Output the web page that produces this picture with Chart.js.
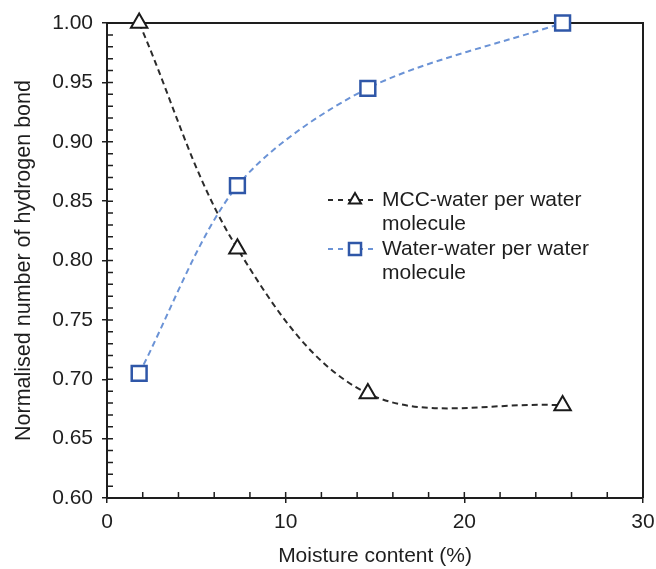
<!DOCTYPE html>
<html>
<head>
<meta charset="utf-8">
<script src="https://cdn.jsdelivr.net/npm/chart.js@4/dist/chart.umd.min.js"></script>
<style>
  html, body { margin: 0; padding: 0; background: #fff; }
  #wrap { width: 656px; height: 569px; }
</style>
</head>
<body>
<div id="wrap"><canvas id="hbondChart"></canvas></div>
<script>
// values
const moisture = [1.8, 7.3, 14.6, 25.5];
const mccWater = [1.00, 0.810, 0.688, 0.678];
const waterWater = [0.705, 0.863, 0.945, 1.00];
const seriesNames = [
    ['MCC-water per water', 'molecule'],
    ['Water-water per water', 'molecule']
];
const xTicks = [0, 10, 20, 30];
const yTicks = [0.60, 0.65, 0.70, 0.75, 0.80, 0.85, 0.90, 0.95, 1.00];

const FONT = "'Liberation Sans', Arial, sans-serif";
const INK = '#1e1e1e';
Chart.defaults.font.family = FONT;
Chart.defaults.color = INK;

// frame on top/right plus inward major and minor ticks, like the excel plot
const framePlugin = {
    id: 'frame',
    beforeDatasetsDraw(chart) {
        const { ctx, chartArea: a, scales } = chart;
        ctx.save();
        ctx.strokeStyle = INK;
        ctx.lineWidth = 2;
        ctx.beginPath();
        ctx.moveTo(a.left, a.top);
        ctx.lineTo(a.right, a.top);
        ctx.lineTo(a.right, a.bottom);
        ctx.stroke();

        ctx.lineWidth = 1.5;
        ctx.beginPath();
        for (let i = 60; i <= 100; i++) {
            const y = scales.y.getPixelForValue(i / 100);
            ctx.moveTo(a.left, y);
            ctx.lineTo(a.left + 6, y);
        }
        for (let i = 0; i <= 30; i += 2) {
            const x = scales.x.getPixelForValue(i);
            ctx.moveTo(x, a.bottom);
            ctx.lineTo(x, a.bottom - 6);
        }
        ctx.stroke();
        ctx.restore();
    }
};

// legend sits inside the plot with wrapped labels
const legendPlugin = {
    id: 'insideLegend',
    afterDraw(chart) {
        const { ctx, chartArea: a } = chart;
        const x0 = a.left + 221;
        const rows = [a.top + 177, a.top + 226];
        ctx.save();
        chart.data.datasets.forEach((ds, i) => {
            const y = rows[i];
            ctx.strokeStyle = ds.borderColor;
            ctx.lineWidth = ds.borderWidth;
            ctx.setLineDash([5, 5]);
            ctx.beginPath();
            ctx.moveTo(x0, y);
            ctx.lineTo(x0 + 47, y);
            ctx.stroke();
            ctx.setLineDash([]);
            ctx.fillStyle = '#fff';
            ctx.strokeStyle = ds.pointBorderColor;
            ctx.lineWidth = ds.pointBorderWidth;
            Chart.helpers.drawPoint(ctx, {
                pointStyle: ds.pointStyle,
                radius: ds.legendRadius,
                rotation: 0,
                borderWidth: ds.pointBorderWidth
            }, x0 + 27, y);
            ctx.fillStyle = INK;
            ctx.font = '21px ' + FONT;
            ctx.textBaseline = 'middle';
            seriesNames[i].forEach((line, j) => {
                ctx.fillText(line, x0 + 54, y + j * 24.5);
            });
        });
        ctx.restore();
    }
};

const chart = new Chart(document.getElementById('hbondChart'), {
    type: 'line',
    data: {
        datasets: [{
            label: seriesNames[0].join(' '),
            data: moisture.map((m, i) => ({ x: m, y: mccWater[i] })),
            borderColor: '#2b2b2b',
            borderWidth: 2,
            borderDash: [6, 4],
            pointStyle: 'triangle',
            pointRadius: 9.5,
            legendRadius: 7,
            pointBorderWidth: 2,
            pointBorderColor: '#1a1a1a',
            pointBackgroundColor: '#fff',
            tension: 0.35,
            clip: false
        }, {
            label: seriesNames[1].join(' '),
            data: moisture.map((m, i) => ({ x: m, y: waterWater[i] })),
            borderColor: '#6b93d6',
            borderWidth: 2,
            borderDash: [6, 4],
            pointStyle: 'rect',
            pointRadius: 10.5,
            legendRadius: 8.5,
            pointBorderWidth: 2.5,
            pointBorderColor: '#2f57a8',
            pointBackgroundColor: '#fff',
            tension: 0.3,
            clip: false
        }]
    },
    options: {
        responsive: true,
        maintainAspectRatio: false,
        animation: false,
        layout: { padding: { top: 23, right: 13, left: 0, bottom: 0 } },
        plugins: {
            legend: { display: false },
            tooltip: { enabled: false }
        },
        scales: {
            x: {
                type: 'linear',
                min: 0,
                max: 30,
                afterBuildTicks: s => { s.ticks = xTicks.map(v => ({ value: v })); },
                afterFit: s => { s.height = 71; s.paddingLeft = 0; s.paddingRight = 0; },
                grid: { drawOnChartArea: false, drawTicks: true, tickLength: 5, color: INK, lineWidth: 1.5 },
                border: { color: INK, width: 2 },
                ticks: { font: { size: 21 }, padding: 7, color: INK },
                title: { display: true, text: 'Moisture content (%)', font: { size: 21 }, color: INK, padding: { top: 6, bottom: 0 } }
            },
            y: {
                type: 'linear',
                min: 0.6,
                max: 1.0,
                afterBuildTicks: s => { s.ticks = yTicks.map(v => ({ value: v })); },
                afterFit: s => { s.width = 107; s.paddingTop = 0; s.paddingBottom = 0; },
                grid: { drawOnChartArea: false, drawTicks: true, tickLength: 5, color: INK, lineWidth: 1.5 },
                border: { color: INK, width: 2 },
                ticks: { font: { size: 21 }, padding: 9, color: INK, callback: v => v.toFixed(2) },
                title: { display: true, text: 'Normalised number of hydrogen bond', font: { size: 21.5 }, color: INK, padding: { top: 11, bottom: 0 } }
            }
        }
    },
    plugins: [framePlugin, legendPlugin]
});
</script>
</body>
</html>
